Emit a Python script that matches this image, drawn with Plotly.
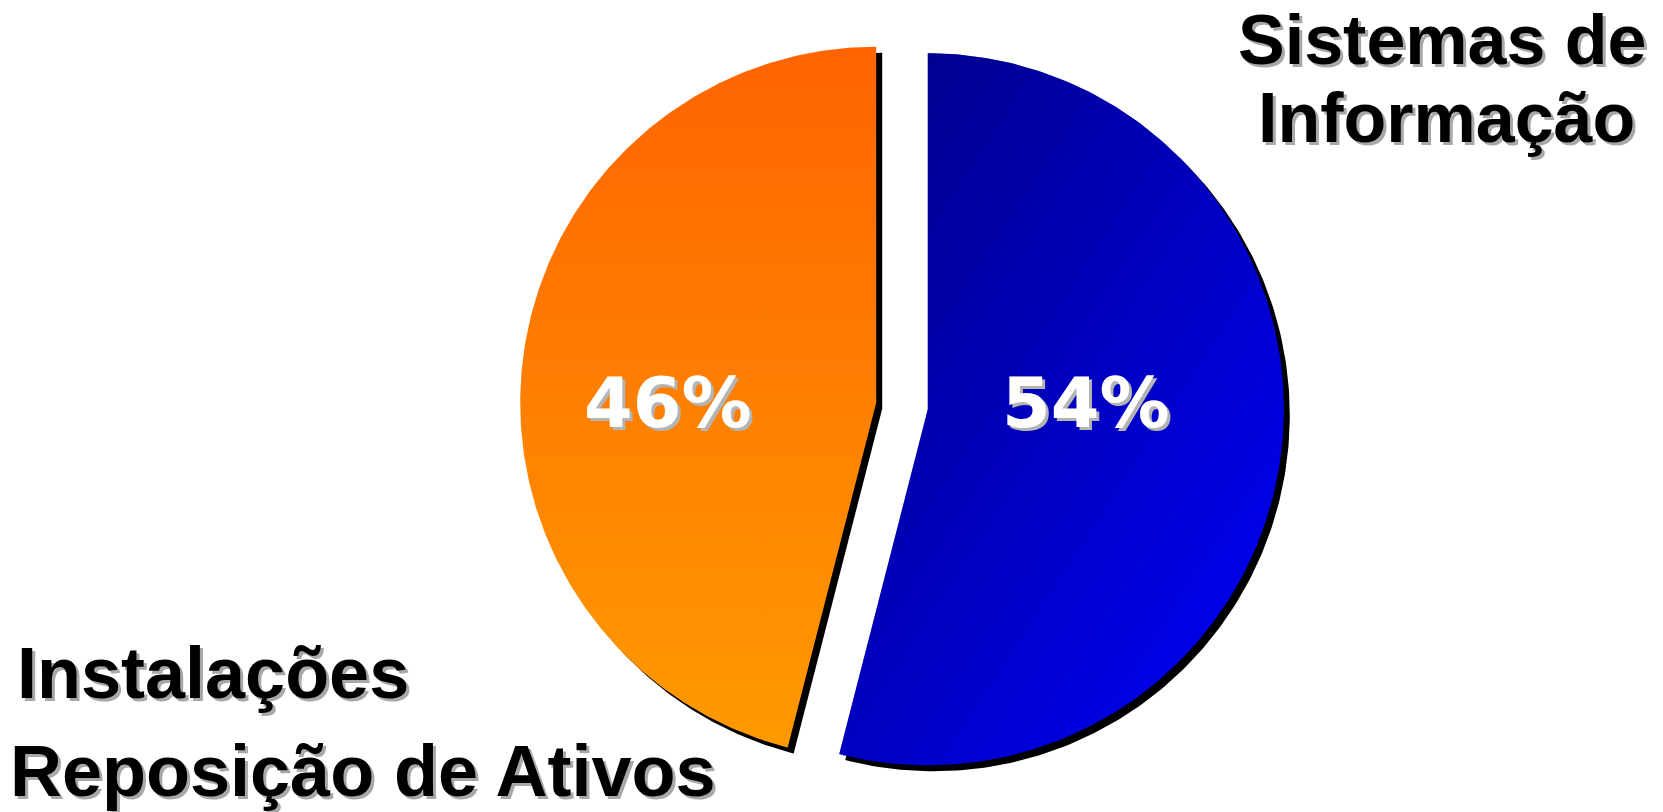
import numpy as np
import plotly.graph_objects as go

# Budget split shown as an exploded two-slice pie
categories = ["Sistemas de Informação", "Instalações Reposição de Ativos"]
values = [54, 46]
pct_labels = [f"{v}%" for v in values]

W, H = 1663, 812
CX, CY, R = 902.0, 406.0, 356.0   # pie centre and radius (px units of the axes)
PULL = 26.0                       # explode distance along each slice bisector
SHADOW = (6.0, 6.0)               # drop-shadow offset


def wedge(t0, t1, dx=0.0, dy=0.0, n=260):
    """Polygon for a slice between clockwise angles t0..t1 (degrees from 12 o'clock)."""
    mid = np.radians((t0 + t1) / 2)
    ox = CX + PULL * np.sin(mid) + dx
    oy = CY - PULL * np.cos(mid) + dy
    th = np.radians(np.linspace(t0, t1, n))
    xs = np.concatenate([[ox], ox + R * np.sin(th), [ox]])
    ys = np.concatenate([[oy], oy - R * np.cos(th), [oy]])
    return xs, ys


total = float(sum(values))
edges = np.concatenate([[0.0], np.cumsum(values) / total * 360.0])
spans = [(edges[i], edges[i + 1]) for i in range(len(values))]

fig = go.Figure()

# drop shadows
for t0, t1 in spans:
    xs, ys = wedge(t0, t1, *SHADOW)
    fig.add_trace(go.Scatter(x=xs, y=ys, mode="lines", fill="toself",
                             fillcolor="#000000", line=dict(width=0),
                             hoverinfo="skip", showlegend=False))

# Sistemas de Informação: navy (top-left) to bright blue (bottom-right)
bx, by = wedge(*spans[0])
fig.add_trace(go.Scatter(
    x=bx, y=by, mode="lines", fill="toself", line=dict(width=0),
    fillgradient=dict(type="horizontal", start=float(bx.min()), stop=float(bx.max()),
                      colorscale=[[0, "#000084"], [1, "#0000FA"]]),
    name=categories[0], hoverinfo="skip", showlegend=False))
fig.add_trace(go.Scatter(
    x=bx, y=by, mode="lines", fill="toself", line=dict(width=0),
    fillgradient=dict(type="vertical", start=float(by.min()), stop=float(by.max()),
                      colorscale=[[0, "rgba(0,0,132,0.5)"], [1, "rgba(0,0,255,0.5)"]]),
    hoverinfo="skip", showlegend=False))

# Instalações / Reposição de Ativos: orange, darker at the top
ox_, oy_ = wedge(*spans[1])
fig.add_trace(go.Scatter(
    x=ox_, y=oy_, mode="lines", fill="toself", line=dict(width=0),
    fillgradient=dict(type="vertical", start=float(oy_.min()), stop=float(oy_.max()),
                      colorscale=[[0, "#FF6400"], [1, "#FF9A00"]]),
    name=categories[1], hoverinfo="skip", showlegend=False))

label_font = dict(family="Liberation Sans, Arial, sans-serif", size=70,
                  color="#000000", weight="bold",
                  shadow="3px 3px 0px #a8a8a8")
label_font_low = dict(label_font, size=72)
pct_font = dict(family="DejaVu Sans, Verdana, sans-serif", size=70,
                color="#FFFFFF", weight="bold",
                shadow="3px 3px 0px #b4b4b4")

annotations = [
    dict(x=668, y=403, text=pct_labels[1], xanchor="center", yanchor="middle", font=pct_font),
    dict(x=1086, y=403, text=pct_labels[0], xanchor="center", yanchor="middle", font=pct_font),
    dict(x=1442, y=40, text="Sistemas de", xanchor="center", yanchor="middle", font=label_font),
    dict(x=1446, y=118, text="Informação", xanchor="center", yanchor="middle", font=label_font),
    dict(x=15, y=673, text="Instalações", xanchor="left", yanchor="middle", font=label_font_low),
    dict(x=8, y=771, text="Reposição de Ativos", xanchor="left", yanchor="middle", font=label_font_low),
]
for a in annotations:
    a.update(xref="x", yref="y", showarrow=False)

fig.update_layout(
    width=W, height=H,
    margin=dict(l=0, r=0, t=0, b=0),
    paper_bgcolor="#FFFFFF", plot_bgcolor="#FFFFFF",
    xaxis=dict(range=[0, W], visible=False, fixedrange=True),
    yaxis=dict(range=[H, 0], visible=False, fixedrange=True),
    annotations=annotations,
    showlegend=False,
)

fig.write_html("out.html")
